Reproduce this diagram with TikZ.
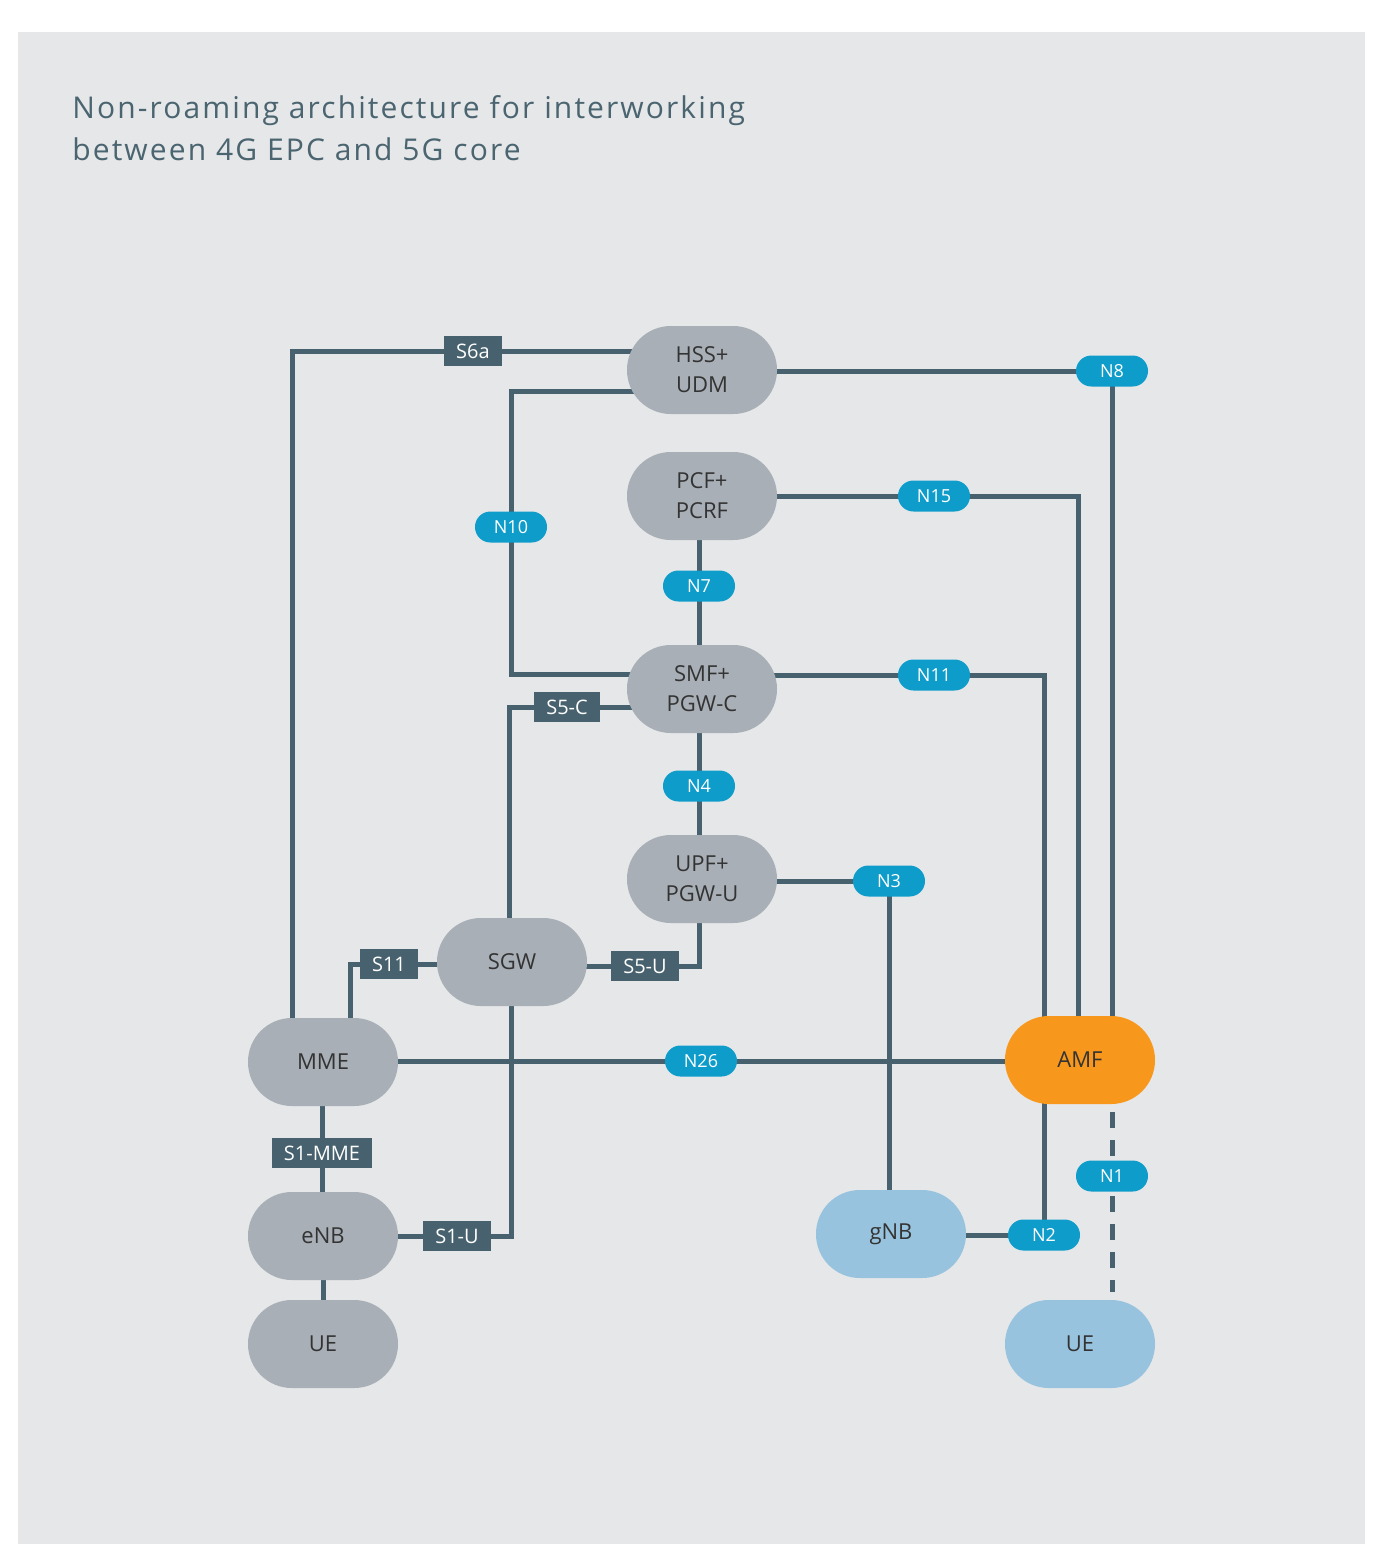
\documentclass[tikz,border=0pt]{standalone}
\usepackage{fontspec}
\setmainfont{Open Sans}
\newfontfamily\titlefont[LetterSpace=7]{Open Sans}
\definecolor{bgc}{HTML}{E6E7E9}
\definecolor{nodegray}{HTML}{A8AFB6}
\definecolor{wirec}{HTML}{47626E}
\definecolor{pillblue}{HTML}{0E9CCA}
\definecolor{amforange}{HTML}{F7981D}
\definecolor{lightblue}{HTML}{98C3DE}
\definecolor{txt}{HTML}{333333}
\definecolor{titlec}{HTML}{4A6470}
\pgfdeclarelayer{back}
\pgfdeclarelayer{wires}
\pgfsetlayers{back,wires,main}
\begin{document}
\begin{tikzpicture}[x=0.5pt,y=-0.5pt,
  nf/.style={fill=nodegray, rounded corners=21.9pt, minimum width=75pt, minimum height=44pt,
    inner sep=0pt, align=center, font=\fontsize{11}{15}\selectfont, text=txt},
  pill/.style={fill=pillblue, rounded corners=7.7pt, minimum width=36pt, minimum height=15.5pt,
    inner sep=0pt, text=white, font=\fontsize{9}{10}\selectfont},
  ifbox/.style={fill=wirec, minimum height=15pt, inner xsep=6pt, inner ysep=0pt,
    text=white, font=\fontsize{10}{11}\selectfont},
  conn/.style={draw=wirec, line width=2.5pt}]
\useasboundingbox (0,0) rectangle (1380,1544);
\begin{pgfonlayer}{back}
  \fill[white] (0,0) rectangle (1380,1544);
  \fill[bgc] (18,32) rectangle (1365,1544);
\end{pgfonlayer}

\node[anchor=base west, align=left, inner sep=0pt, text=titlec,
  font=\titlefont\fontsize{15}{21}\selectfont] (title) at (72,160)
  {Non-roaming architecture for interworking\\between 4G EPC and 5G core};

% network functions
\node[nf] (hss) at (702,370) {HSS+\\UDM};
\node[nf] (pcf) at (702,496) {PCF+\\PCRF};
\node[nf] (smf) at (702,689) {SMF+\\PGW-C};
\node[nf] (upf) at (702,879) {UPF+\\PGW-U};
\node[nf] (sgw) at (512,962) {SGW};
\node[nf] (mme) at (323,1062) {MME};
\node[nf] (enb) at (323,1236) {eNB};
\node[nf] (ue1) at (323,1344) {UE};
\node[nf, fill=amforange] (amf) at (1080,1060) {AMF};
\node[nf, fill=lightblue] (gnb) at (891,1234) {gNB};
\node[nf, fill=lightblue] (ue2) at (1080,1344) {UE};

% interface labels
\node[ifbox] (s6a) at (473,351) {S6a};
\node[pill] (n8) at (1112,371) {N8};
\node[pill] (n10) at (511,527) {N10};
\node[pill] (n15) at (934,496) {N15};
\node[pill] (n7) at (699,586) {N7};
\node[pill] (n11) at (934,675) {N11};
\node[ifbox] (s5c) at (567,707) {S5-C};
\node[pill] (n4) at (699,786) {N4};
\node[pill] (n3) at (889,881) {N3};
\node[ifbox] (s11) at (389,964) {S11};
\node[ifbox] (s5u) at (645,966) {S5-U};
\node[pill] (n26) at (701,1061) {N26};
\node[ifbox] (s1mme) at (322,1153) {S1-MME};
\node[ifbox] (s1u) at (457,1236) {S1-U};
\node[pill] (n1) at (1112,1176) {N1};
\node[pill] (n2) at (1044,1235) {N2};

% corners
\coordinate (k1) at (292,351);
\coordinate (k2) at (511,391);
\coordinate (k3) at (511,674);
\coordinate (k4) at (1112,371);
\coordinate (k5) at (1078,496);
\coordinate (k6) at (1044,675);
\coordinate (k7) at (889,881);
\coordinate (k8) at (699,966);
\coordinate (k9) at (350,964);
\coordinate (k10) at (509,707);
\coordinate (k11) at (511,1236);

\begin{pgfonlayer}{wires}
  \draw[conn] (k1 -| hss.center) -- (s6a.center) -- (k1) -- (k1 |- mme.center);
  \draw[conn] (k2 -| hss.center) -- (k2) -- (k3) -- (k3 -| smf.center);
  \draw[conn] (k4 -| hss.center) -- (k4) -- (k4 |- amf.center);
  \draw[conn] (k5 -| pcf.center) -- (k5) -- (k5 |- amf.center);
  \draw[conn] (n7 |- pcf.center) -- (n7 |- smf.center);
  \draw[conn] (k6 -| smf.center) -- (k6) -- (k6 |- amf.center);
  \draw[conn] (n4 |- smf.center) -- (n4 |- upf.center);
  \draw[conn] (k7 -| upf.center) -- (k7) -- (k7 |- gnb.center);
  \draw[conn] (k8 |- upf.center) -- (k8) -- (k8 -| sgw.center);
  \draw[conn] (k9 -| sgw.center) -- (k9) -- (k9 |- mme.center);
  \draw[conn] (k10 |- sgw.center) -- (k10) -- (k10 -| smf.center);
  \draw[conn] (k11 |- sgw.center) -- (k11) -- (k11 -| enb.center);
  \draw[conn] (mme.center |- n26.center) -- (amf.center |- n26.center);
  \draw[conn] (s1mme |- mme.center) -- (s1mme |- enb.center);
  \draw[conn] (enb.center) -- (ue1.center);
  \draw[conn] (gnb.center |- n2.center) -- (n2.center);
  \draw[conn] (n2.center) -- (n2 |- amf.center);
  \draw[conn, dash pattern=on 8pt off 6pt, shorten <=4pt, shorten >=4pt]
    (amf.south -| n1.center) -- (ue2.north -| n1.center);
\end{pgfonlayer}
\end{tikzpicture}
\end{document}
